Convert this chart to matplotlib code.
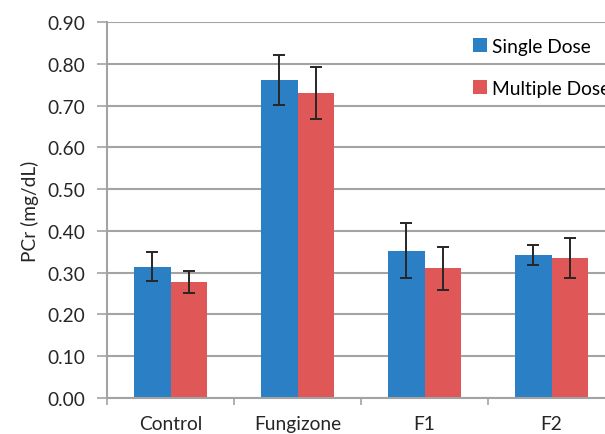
import numpy as np
import matplotlib.pyplot as plt

plt.rcParams['font.family'] = ['Lato', 'DejaVu Sans']

groups = ["Control", "Fungizone", "F1", "F2"]
single = [0.314, 0.761, 0.353, 0.343]
single_err = [0.035, 0.060, 0.065, 0.024]
multiple = [0.277, 0.730, 0.310, 0.336]
multiple_err = [0.026, 0.062, 0.052, 0.048]

blue = "#2B80C5"
red = "#E05757"
grid = "#A3A3A3"
txt = "#262626"
fs = 13.8

fig = plt.figure(figsize=(6.05, 4.35), dpi=100)
ax = fig.add_axes([107 / 605, 36 / 435, 508 / 605, 376 / 435])

x = np.arange(len(groups))
w = 0.284
ax.bar(x - w / 2, single, w, color=blue, label="Single Dose", zorder=2)
ax.bar(x + w / 2, multiple, w, color=red, label="Multiple Dose", zorder=2)
ax.errorbar(x - w / 2, single, yerr=single_err, fmt="none", ecolor=txt,
            elinewidth=1.4, capsize=4.5, capthick=1.4, zorder=3)
ax.errorbar(x + w / 2, multiple, yerr=multiple_err, fmt="none", ecolor=txt,
            elinewidth=1.4, capsize=4.5, capthick=1.4, zorder=3)

ax.set_xlim(-0.5, 3.5)
ax.set_ylim(0, 0.9)
ax.set_yticks(np.arange(0, 0.91, 0.1))
ax.set_yticklabels([f"{v:.2f}" for v in np.arange(0, 0.91, 0.1)])
ax.yaxis.grid(True, color=grid, linewidth=1.5, zorder=0)
ax.set_axisbelow(True)

ax.set_xticks(x)
ax.set_xticklabels(groups)
ax.set_xticks(np.arange(-0.5, 3.6, 1), minor=True)
ax.tick_params(axis="x", which="major", length=0, pad=12, labelsize=fs, colors=txt)
ax.tick_params(axis="x", which="minor", length=5, width=1.2, color=grid)
ax.tick_params(axis="y", length=7, width=1.2, color=grid, pad=9, labelsize=fs, labelcolor=txt)

for s in ["top", "right"]:
    ax.spines[s].set_visible(False)
for s in ["left", "bottom"]:
    ax.spines[s].set_color(grid)
    ax.spines[s].set_linewidth(1.5)

ax.set_ylabel("PCr (mg/dL)", fontsize=fs, color=txt, labelpad=6)

ax.legend(loc="upper left", bbox_to_anchor=(473 / 605, 1 - 39 / 435),
          bbox_transform=fig.transFigure, frameon=False, fontsize=fs,
          handlelength=0.75, handleheight=0.75, handletextpad=0.25,
          labelspacing=1.3, borderaxespad=0, borderpad=0)

fig.savefig("out.png", dpi=100)
